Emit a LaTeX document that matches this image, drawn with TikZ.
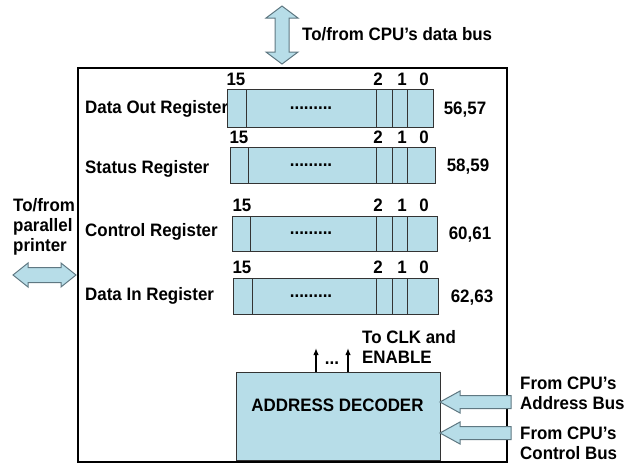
\documentclass[tikz,border=0pt]{standalone}
\usepackage{fontspec}
\setmainfont[FakeStretch=0.94]{Liberation Sans}
\usetikzlibrary{arrows.meta}
\definecolor{regfill}{RGB}{183,221,232}
\definecolor{arrowline}{RGB}{95,120,130}
\begin{document}
\begin{tikzpicture}[x=1pt,y=-1pt,
  lbl/.style={font=\fontsize{18}{20}\selectfont\bfseries, inner sep=0pt, text height=12.9pt, text depth=0pt},
  dots/.style={font=\fontsize{18}{20}\selectfont\bfseries, inner sep=0pt},
  regbox/.style={draw=black!80, fill=regfill, line width=0.9pt},
  divider/.style={draw=black!80, line width=0.9pt},
  fatarrow/.style={draw=arrowline, fill=regfill, line width=1pt, line join=miter},
  outerbox/.style={draw=black, line width=2.4pt},
  thinarrow/.style={-{Latex[length=7pt,width=5.5pt]}, line width=1.6pt}]
\useasboundingbox (0,0) rectangle (633,464);

% outer interface box
\draw[outerbox] (78,68) rectangle (507,462);

% data bus arrow
\draw[fatarrow] (282,6) -- (298,18) -- (289,18) -- (289,52) -- (298,52) -- (282,64)
  -- (266,52) -- (275,52) -- (275,18) -- (266,18) -- cycle;
\node[lbl, anchor=west] (dbus) at (302,34) {To/from CPU’s data bus};

% printer arrow
\draw[fatarrow] (13,275) -- (28,263) -- (28,267.5) -- (61,267.5) -- (61,263) -- (76,275)
  -- (61,287) -- (61,282.5) -- (28,282.5) -- (28,287) -- cycle;
\node[lbl, anchor=west] (p1) at (13,205) {To/from};
\node[lbl, anchor=west] (p2) at (13,225) {parallel};
\node[lbl, anchor=west] (p3) at (13,245) {printer};

% registers
\foreach \i/\L/\R/\T/\B/\F/\fx/\fy/\num/\nx/\ly/\lab in {
  1/227/433/89/127/246/236/79/{56,57}/465/107/{Data Out Register},
  2/230/435/147/183/248/239/137/{58,59}/468/167/{Status Register},
  3/232/437/216/251/250/242/205/{60,61}/470/230/{Control Register},
  4/233/438/278/314/252/242/267/{62,63}/472/294/{Data In Register}}{
  \node[lbl, anchor=west] (lab\i) at (85,\ly) {\lab};
  \draw[regbox] (\L,\T) rectangle (\R,\B);
  \draw[divider] (\F,\T) -- (\F,\B);
  \draw[divider] (376,\T) -- (376,\B);
  \draw[divider] (392,\T) -- (392,\B);
  \draw[divider] (407,\T) -- (407,\B);
  \node[dots] (dot\i) at (311,{(\T+\B)/2}) {.........};
  \node[lbl] (b15\i) at (\fx,\fy) {15};
  \node[lbl] (b2\i) at (378,\fy) {2};
  \node[lbl] (b1\i) at (402,\fy) {1};
  \node[lbl] (b0\i) at (424,\fy) {0};
  \node[lbl] (addr\i) at (\nx,{(\T+\B)/2}) {\num};
}

% address decoder
\node[draw=black!80, fill=regfill, line width=0.9pt, minimum width=204pt, minimum height=88pt,
  inner sep=0pt] (dec) at (338,416) {};
\node[lbl] (dectext) at (337.5,405) {ADDRESS DECODER};

% outputs
\coordinate (o1) at (316,348);
\coordinate (o2) at (348,348);
\draw[thinarrow] (dec.north -| o1) -- (o1);
\draw[thinarrow] (dec.north -| o2) -- (o2);
\node[lbl] (odots) at (332,358) {...};
\node[lbl, anchor=west] (clk1) at (362,337) {To CLK and};
\node[lbl, anchor=west] (clk2) at (362,357) {ENABLE};

% input arrows
\foreach \y in {402,433}{
  \draw[fatarrow] (440,\y) -- (460,\y-11) -- (460,\y-6.5) -- (511,\y-6.5) -- (511,\y+6.5)
    -- (460,\y+6.5) -- (460,\y+11) -- cycle;
}
\node[lbl, anchor=west] (in1) at (520,383) {From CPU’s};
\node[lbl, anchor=west] (in2) at (520,403) {Address Bus};
\node[lbl, anchor=west] (in3) at (520,433) {From CPU’s};
\node[lbl, anchor=west] (in4) at (520,453) {Control Bus};
\end{tikzpicture}
\end{document}
